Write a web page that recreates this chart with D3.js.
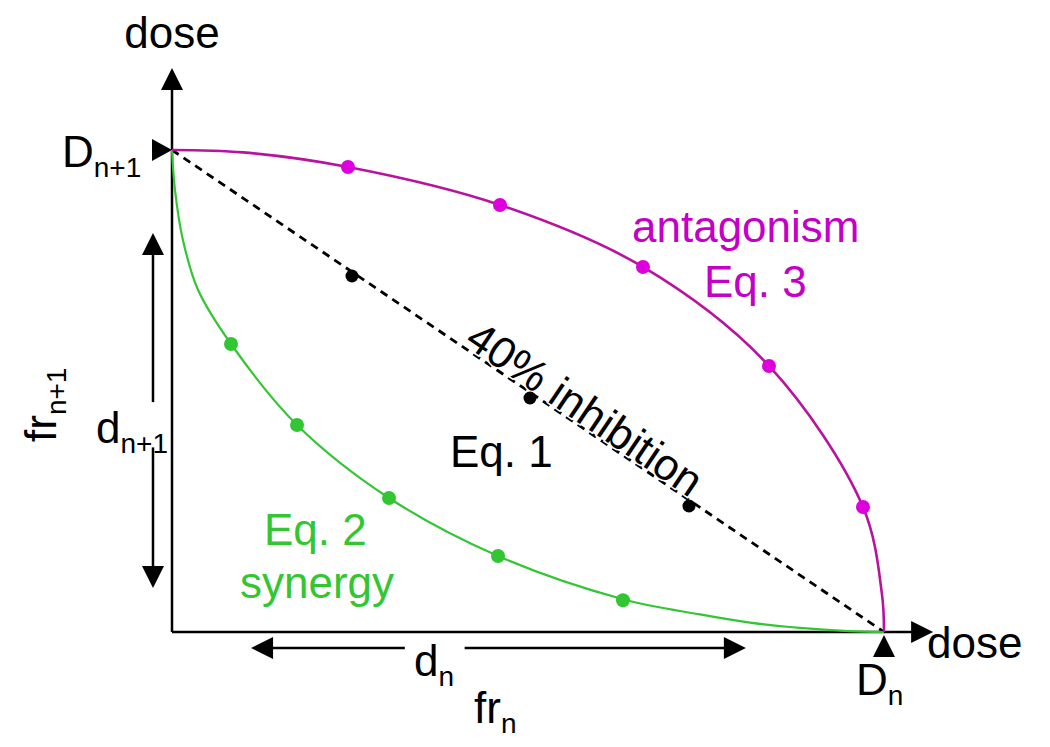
<!DOCTYPE html>
<html>
<head>
<meta charset="utf-8">
<script src="https://cdn.jsdelivr.net/npm/d3@7"></script>
<style>
  html, body { margin: 0; padding: 0; background: #fff; }
  svg { display: block; font-family: "Liberation Sans", Arial, sans-serif; }
</style>
</head>
<body>
<svg id="chart" width="1050" height="747"></svg>
<script>
// ---- data (dose fractions, 0..1 where 1 = D_n on x, D_{n+1} on y) ----
const synergyCurve = [
  [0, 1], [0.0042, 0.917], [0.0154, 0.813], [0.0365, 0.71], [0.0829, 0.5975],
  [0.1756, 0.4295], [0.3048, 0.278], [0.4579, 0.1577], [0.6334, 0.068],
  [0.7416, 0.0365], [0.8118, 0.0195], [0.882, 0.0085], [0.95, 0.002], [1, 0]
];
const synergyDots = [
  [0.0829, 0.5975], [0.1756, 0.4295], [0.3048, 0.278], [0.4579, 0.1577], [0.6334, 0.066]
];
const antagonismCurve = [
  [0, 1], [0.1, 0.995], [0.2472, 0.9647], [0.4607, 0.8859],
  [0.6615, 0.7573], [0.8385, 0.5519], [0.9705, 0.2593], [0.997, 0.08], [1, 0]
];
const antagonismDots = [
  [0.2472, 0.9647], [0.4607, 0.8859], [0.6615, 0.7573], [0.8385, 0.5519], [0.9705, 0.2593]
];
const additiveLine = [[0, 1], [1, 0]];
const additiveDots = [[0.2528, 0.7386], [0.5028, 0.4855], [0.7261, 0.2614]];

const xAxisEnd = 1.069;   // x-axis arrow tip
const yAxisEnd = 1.170;   // y-axis arrow tip
const horizArrow = { y: -0.033, from: 0.111, to: 0.806, gapFrom: 0.327, gapTo: 0.411 };
const vertArrow  = { x: -0.0267, from: 0.0913, to: 0.828, gapFrom: 0.383, gapTo: 0.477 };

// ---- scales ----
const x = d3.scaleLinear().domain([0, 1]).range([172, 884]);
const y = d3.scaleLinear().domain([0, 1]).range([632, 150]);

const svg = d3.select("#chart");
const green = "#33c633", magenta = "#b8129f", magentaDot = "#dd00dd", magentaText = "#c400c8";

function arrowHead(px, py, dir, len = 22, half = 11) {
  const [dx, dy] = dir;
  const bx = px - dx * len, by = py - dy * len;
  const nx = -dy, ny = dx;
  return `M${px},${py}L${bx + nx * half},${by + ny * half}L${bx - nx * half},${by - ny * half}Z`;
}

// axes
svg.append("line").attr("x1", x(0)).attr("y1", y(0)).attr("x2", x(xAxisEnd) - 10).attr("y2", y(0))
  .attr("stroke", "#000").attr("stroke-width", 2.5);
svg.append("line").attr("x1", x(0)).attr("y1", y(0)).attr("x2", x(0)).attr("y2", y(yAxisEnd) + 10)
  .attr("stroke", "#000").attr("stroke-width", 2.5);
svg.append("path").attr("d", arrowHead(x(xAxisEnd), y(0), [1, 0])).attr("fill", "#000");
svg.append("path").attr("d", arrowHead(x(0), y(yAxisEnd), [0, -1])).attr("fill", "#000");

// D markers
svg.append("path").attr("d", arrowHead(x(0), y(1), [1, 0], 20, 11)).attr("fill", "#000");
svg.append("path").attr("d", arrowHead(x(1), y(0) + 3, [0, -1], 22, 11)).attr("fill", "#000");

// double arrows
function hSeg(a, b, yy) {
  svg.append("line").attr("x1", x(a)).attr("x2", x(b)).attr("y1", y(yy)).attr("y2", y(yy))
    .attr("stroke", "#000").attr("stroke-width", 2.5);
}
function vSeg(a, b, xx) {
  svg.append("line").attr("y1", y(a)).attr("y2", y(b)).attr("x1", x(xx)).attr("x2", x(xx))
    .attr("stroke", "#000").attr("stroke-width", 2.5);
}
hSeg(horizArrow.from + 0.02, horizArrow.gapFrom, horizArrow.y);
hSeg(horizArrow.gapTo, horizArrow.to - 0.02, horizArrow.y);
svg.append("path").attr("d", arrowHead(x(horizArrow.from), y(horizArrow.y), [-1, 0])).attr("fill", "#000");
svg.append("path").attr("d", arrowHead(x(horizArrow.to), y(horizArrow.y), [1, 0])).attr("fill", "#000");

vSeg(vertArrow.from + 0.03, vertArrow.gapFrom, vertArrow.x);
vSeg(vertArrow.gapTo, vertArrow.to - 0.03, vertArrow.x);
svg.append("path").attr("d", arrowHead(x(vertArrow.x), y(vertArrow.from), [0, 1])).attr("fill", "#000");
svg.append("path").attr("d", arrowHead(x(vertArrow.x), y(vertArrow.to), [0, -1])).attr("fill", "#000");

// curves
const line = d3.line().x(d => x(d[0])).y(d => y(d[1])).curve(d3.curveCatmullRom.alpha(0.5));
svg.append("path").attr("d", d3.line().x(d => x(d[0])).y(d => y(d[1]))(additiveLine))
  .attr("fill", "none").attr("stroke", "#000").attr("stroke-width", 2.8).attr("stroke-dasharray", "8,6");
svg.append("path").attr("d", line(synergyCurve)).attr("fill", "none").attr("stroke", green).attr("stroke-width", 2.2);
svg.append("path").attr("d", line(antagonismCurve)).attr("fill", "none").attr("stroke", magenta).attr("stroke-width", 2.6);

// 40% inhibition label along the additive line
const lineAngle = Math.atan2(y(0) - y(1), x(1) - x(0)) * 180 / Math.PI;
const labelStart = 0.407;
svg.append("text")
  .attr("transform", `translate(${x(labelStart)},${y(1 - labelStart)}) rotate(${lineAngle}) translate(0,-2)`)
  .attr("font-size", 44).attr("fill", "#000")
  .attr("stroke", "#fff").attr("stroke-width", 3).attr("paint-order", "stroke")
  .text("40% inhibition");

// dots
svg.selectAll(".gdot").data(synergyDots).join("circle").attr("cx", d => x(d[0])).attr("cy", d => y(d[1]))
  .attr("r", 7).attr("fill", green);
svg.selectAll(".mdot").data(antagonismDots).join("circle").attr("cx", d => x(d[0])).attr("cy", d => y(d[1]))
  .attr("r", 7).attr("fill", magentaDot);
svg.selectAll(".kdot").data(additiveDots).join("circle").attr("cx", d => x(d[0])).attr("cy", d => y(d[1]))
  .attr("r", 6.5).attr("fill", "#000");

// texts
function label(tx, ty, main, sub, color = "#000", rotate = 0) {
  const t = svg.append("text").attr("fill", color).attr("font-size", 44)
    .attr("transform", `translate(${tx},${ty}) rotate(${rotate})`);
  t.append("tspan").text(main);
  if (sub) t.append("tspan").attr("font-size", 28).attr("dy", 10).text(sub);
  return t;
}
svg.append("text").attr("x", 172).attr("y", 48).attr("text-anchor", "middle").attr("font-size", 44).text("dose");
label(927, 658, "dose");
label(62, 167, "D", "n+1");
label(856, 695, "D", "n");
label(56, 442, "fr", "n+1", "#000", -90);
label(96, 443, "d", "n+1");
label(414, 676, "d", "n");
label(474, 723, "fr", "n");
label(264, 545, "Eq. 2", null, green);
label(240, 598, "synergy", null, green);
label(632, 242, "antagonism", null, magentaText);
label(704, 297, "Eq. 3", null, magentaText);
label(450, 467, "Eq. 1");
</script>
</body>
</html>
